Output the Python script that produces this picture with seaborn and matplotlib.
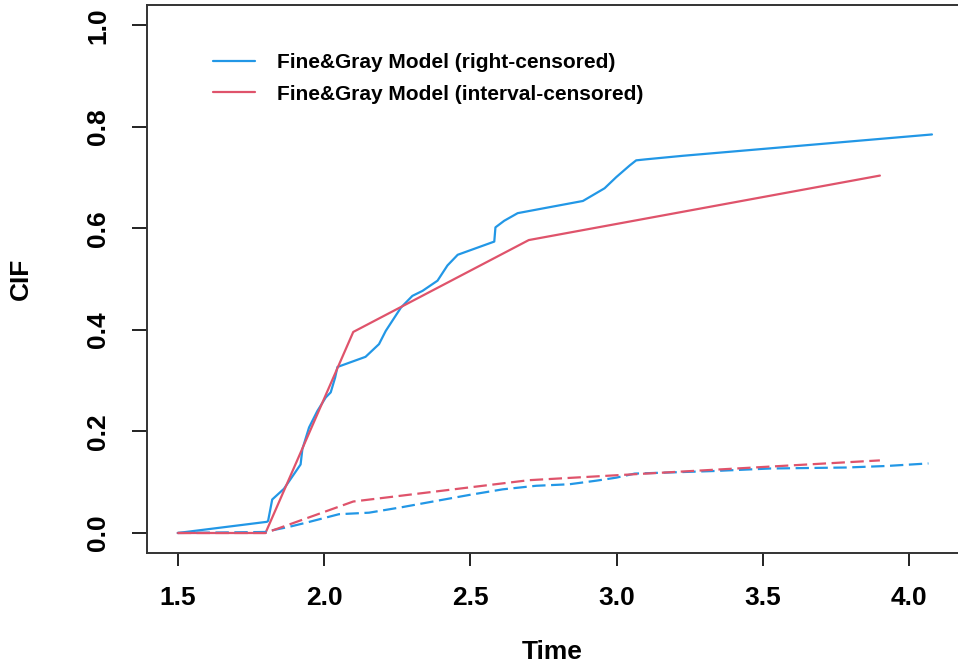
import numpy as np
import matplotlib
matplotlib.use("Agg")
import matplotlib.pyplot as plt
import seaborn as sns

# colours (R 4.x default palette)
BLUE = "#2297E6"
RED = "#DF536B"

# Fine&Gray, right-censored data (solid = cause 1, dashed = cause 2)
rc_time = [1.5, 1.805, 1.809, 1.823, 1.863, 1.92, 1.926, 1.949, 1.977, 2.006,
           2.023, 2.038, 2.046, 2.142, 2.188, 2.211, 2.263, 2.302, 2.337, 2.388,
           2.422, 2.457, 2.582, 2.586, 2.616, 2.662, 2.736, 2.885, 2.959, 2.999,
           3.045, 3.067, 3.10, 3.227, 4.078]
rc_cif1 = [0.0, 0.022, 0.024, 0.066, 0.087, 0.135, 0.165, 0.208, 0.240, 0.267,
           0.277, 0.306, 0.327, 0.347, 0.372, 0.398, 0.444, 0.467, 0.477, 0.497,
           0.527, 0.548, 0.574, 0.602, 0.615, 0.630, 0.638, 0.654, 0.679, 0.701,
           0.724, 0.734, 0.736, 0.743, 0.785]

rc_time2 = [1.5, 1.80, 1.812, 1.88, 1.937, 2.051, 2.154, 2.268, 2.382, 2.497,
            2.611, 2.725, 2.839, 2.93, 2.999, 3.062, 3.33, 3.524, 3.786, 3.923,
            4.066]
rc_cif2 = [0.0, 0.002, 0.004, 0.012, 0.020, 0.037, 0.040, 0.051, 0.063, 0.075,
           0.086, 0.093, 0.096, 0.103, 0.109, 0.117, 0.122, 0.127, 0.129, 0.132,
           0.137]

# Fine&Gray, interval-censored data
ic_time = [1.5, 1.8, 2.1, 2.7, 3.9]
ic_cif1 = [0.0, 0.0, 0.396, 0.577, 0.704]
ic_cif2 = [0.0, 0.0, 0.062, 0.104, 0.143]

labels = ["Fine&Gray Model (right-censored)", "Fine&Gray Model (interval-censored)"]
x_ticks = [1.5, 2.0, 2.5, 3.0, 3.5, 4.0]
y_ticks = [0.0, 0.2, 0.4, 0.6, 0.8, 1.0]

sns.set_style("white")
plt.rcParams.update({
    "font.family": ["Liberation Sans", "DejaVu Sans"],
    "font.weight": "bold",
    "text.color": "black",
    "axes.labelcolor": "black",
    "xtick.color": "black",
    "ytick.color": "black",
})

fig = plt.figure(figsize=(9.58, 6.68), dpi=100)
ax = fig.add_axes([146.7 / 958, 1 - 553.3 / 668, 1 - 146.7 / 958, (553.3 - 5) / 668])

dash = (0, (6, 2.5))
sns.lineplot(x=rc_time, y=rc_cif1, ax=ax, color=BLUE, lw=1.6, sort=False,
             estimator=None, label=labels[0])
sns.lineplot(x=ic_time, y=ic_cif1, ax=ax, color=RED, lw=1.6, sort=False,
             estimator=None, label=labels[1])
sns.lineplot(x=rc_time2, y=rc_cif2, ax=ax, color=BLUE, lw=1.6, sort=False,
             estimator=None, linestyle=dash)
sns.lineplot(x=ic_time, y=ic_cif2, ax=ax, color=RED, lw=1.6, sort=False,
             estimator=None, linestyle=dash)

ax.set_xlim(1.394, 4.167)
ax.set_ylim(-0.04, 1.04)
ax.set_xticks(x_ticks)
ax.set_yticks(y_ticks)
ax.set_xticklabels([f"{t:.1f}" for t in x_ticks], fontsize=19, fontweight="bold")
ax.set_yticklabels([f"{t:.1f}" for t in y_ticks], fontsize=19, fontweight="bold",
                   rotation=90, va="center")
ax.tick_params(axis="x", length=9.5, width=1.4, color="#222222", pad=14, direction="out")
ax.tick_params(axis="y", length=10.5, width=1.4, color="#222222", pad=16, direction="out")
ax.tick_params(bottom=True, left=True)

ax.set_xlabel("Time", fontsize=19, fontweight="bold", labelpad=22)
ax.set_ylabel("CIF", fontsize=19, fontweight="bold", labelpad=38)

for side in ["left", "bottom", "top"]:
    ax.spines[side].set_visible(True)
    ax.spines[side].set_color("#333333")
    ax.spines[side].set_linewidth(1.4)
ax.spines["right"].set_visible(False)

leg = ax.legend(loc="upper left", bbox_to_anchor=(0.0817, 0.912), frameon=False,
                handlelength=2.0, handletextpad=1.06, labelspacing=0.6,
                borderpad=0, borderaxespad=0, prop={"weight": "bold", "size": 15})

fig.savefig("out.png", dpi=100)
